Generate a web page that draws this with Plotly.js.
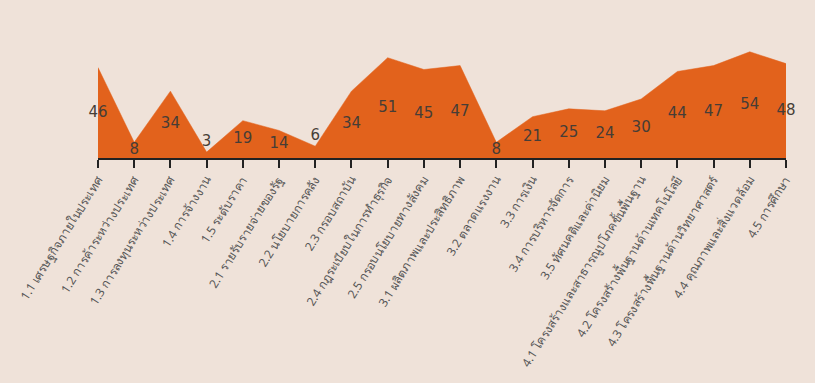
<!DOCTYPE html>
<html>
<head>
<meta charset="utf-8">
<script src="https://cdn.plot.ly/plotly-3.0.1.min.js"></script>
<style>
html,body{margin:0;padding:0;background:#efe2d9;}
#chart{width:815px;height:383px;}
</style>
</head>
<body>
<div id="chart"></div>
<script>
const categories = [
  "1.1 เศรษฐกิจภายในประเทศ",
  "1.2 การค้าระหว่างประเทศ",
  "1.3 การลงทุนระหว่างประเทศ",
  "1.4 การจ้างงาน",
  "1.5 ระดับราคา",
  "2.1 รายรับรายจ่ายของรัฐ",
  "2.2 นโยบายการคลัง",
  "2.3 กรอบสถาบัน",
  "2.4 กฎระเบียบในการทำธุรกิจ",
  "2.5 กรอบนโยบายทางสังคม",
  "3.1 ผลิตภาพและประสิทธิภาพ",
  "3.2 ตลาดแรงงาน",
  "3.3 การเงิน",
  "3.4 การบริหารจัดการ",
  "3.5 ทัศนคติและค่านิยม",
  "4.1 โครงสร้างและสาธารณูปโภคขั้นพื้นฐาน",
  "4.2 โครงสร้างพื้นฐานด้านเทคโนโลยี",
  "4.3 โครงสร้างพื้นฐานด้านวิทยาศาสตร์",
  "4.4 คุณภาพและสิ่งแวดล้อม",
  "4.5 การศึกษา"
];
const values = [46, 8, 34, 3, 19, 14, 6, 34, 51, 45, 47, 8, 21, 25, 24, 30, 44, 47, 54, 48];

const x = categories.map((c, i) => i);
const labelY = values.map(v => v < 7 ? v + 5 : v / 2);

const area = {
  type: 'scatter', mode: 'lines', x: x, y: values,
  fill: 'tozeroy', fillcolor: '#e2621c',
  line: {color: '#e2621c', width: 0.5, shape: 'linear'},
  hoverinfo: 'skip', showlegend: false
};
const labels = {
  type: 'scatter', mode: 'text', x: x, y: labelY,
  text: values.map(String), textposition: 'middle center',
  textfont: {family: 'DejaVu Sans, Noto Sans, sans-serif', size: 15, color: '#463d36'},
  hoverinfo: 'skip', showlegend: false, cliponaxis: false
};

const layout = {
  width: 815, height: 383,
  paper_bgcolor: '#efe2d9', plot_bgcolor: '#efe2d9',
  margin: {l: 98, r: 29, t: 40, b: 225, pad: 0},
  showlegend: false,
  xaxis: {
    range: [0, categories.length - 1],
    tickmode: 'array', tickvals: x, ticktext: categories,
    tickangle: -58, ticks: 'outside', ticklen: 8, tickwidth: 2, tickcolor: '#222',
    showline: true, linecolor: '#222', linewidth: 2,
    showgrid: false, zeroline: false,
    tickfont: {family: 'Noto Sans, DejaVu Sans, sans-serif', size: 12, color: '#555'},
    automargin: false
  },
  yaxis: {
    range: [0, 60], visible: false, showgrid: false, zeroline: false, fixedrange: true
  }
};

Plotly.newPlot('chart', [area, labels], layout, {displayModeBar: false, staticPlot: true});
</script>
</body>
</html>
